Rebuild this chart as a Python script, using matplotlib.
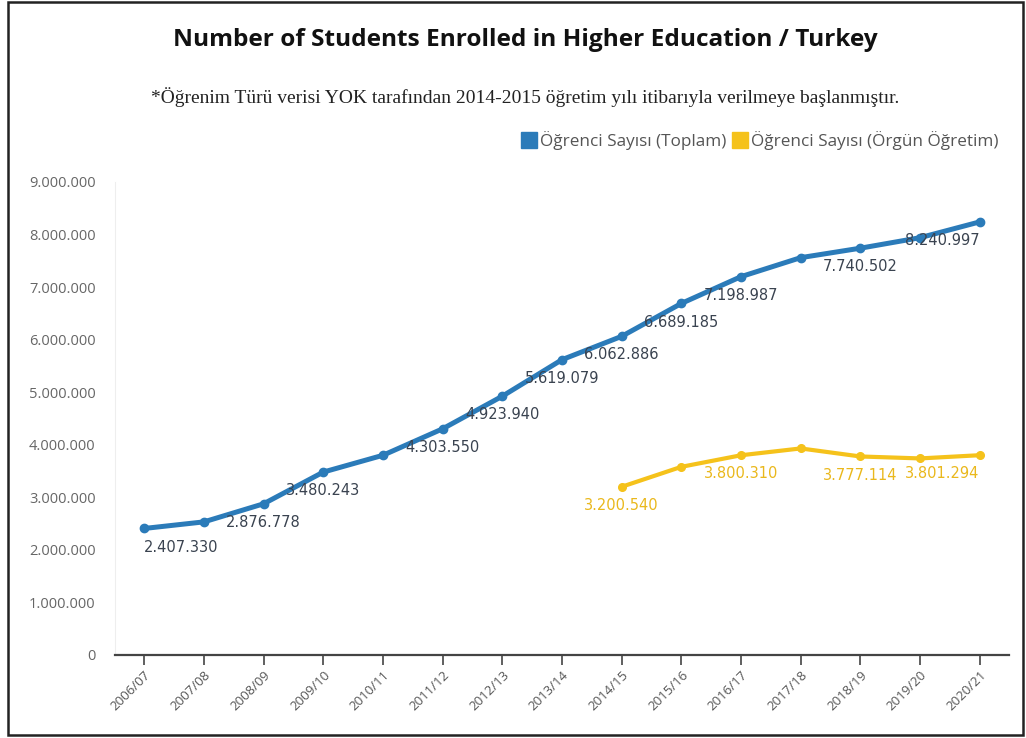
import matplotlib
matplotlib.use("Agg")
import matplotlib.pyplot as plt
from matplotlib.lines import Line2D
from matplotlib.patches import Rectangle
from matplotlib.ticker import FuncFormatter

years = ["2006/07", "2007/08", "2008/09", "2009/10", "2010/11", "2011/12", "2012/13",
         "2013/14", "2014/15", "2015/16", "2016/17", "2017/18", "2018/19", "2019/20", "2020/21"]
total = [2407330, 2532622, 2876778, 3480243, 3800000, 4303550, 4923940,
         5619079, 6062886, 6689185, 7198987, 7560371, 7740502, 7940133, 8240997]
total_labeled = [1, 0, 1, 1, 0, 1, 1, 1, 1, 1, 1, 0, 1, 0, 1]
formal_years = years[8:]
formal = [3200540, 3580000, 3800310, 3930000, 3777114, 3740000, 3801294]
formal_labeled = [1, 0, 1, 0, 1, 0, 1]

series_names = ["Öğrenci Sayısı (Toplam)", "Öğrenci Sayısı (Örgün Öğretim)"]
title = "Number of Students Enrolled in Higher Education / Turkey"
subtitle = "*Öğrenim Türü verisi YOK tarafından 2014-2015 öğretim yılı itibarıyla verilmeye başlanmıştır."

BLUE = "#2b7bb9"
YELLOW = "#f5c21b"

def dotted(v):
    return f"{int(round(v)):,}".replace(",", ".")

fig = plt.figure(figsize=(10.26, 7.38), dpi=100)
ax = fig.add_axes([0.1121, 0.1125, 0.8713, 0.6409])

x_total = list(range(len(years)))
x_formal = [years.index(y) for y in formal_years]

ax.plot(x_total, total, color=BLUE, lw=3.6, marker="o", ms=6, solid_capstyle="round", zorder=3)
ax.plot(x_formal, formal, color=YELLOW, lw=3.0, marker="o", ms=5.5, solid_capstyle="round", zorder=3)

n = len(years)
for i, (xv, v, show) in enumerate(zip(x_total, total, total_labeled)):
    if not show:
        continue
    ha = "center"
    if i == 0:
        ha = "left"
    elif i == n - 1:
        ha = "right"
    ax.annotate(dotted(v), (xv, v), xytext=(0, -8), textcoords="offset points",
                ha=ha, va="top", fontsize=10.5, color="#3a4350", family="DejaVu Sans")

for i, (xv, v, show) in enumerate(zip(x_formal, formal, formal_labeled)):
    if not show:
        continue
    ha = "right" if xv == n - 1 else "center"
    ax.annotate(dotted(v), (xv, v), xytext=(0, -8), textcoords="offset points",
                ha=ha, va="top", fontsize=10.5, color="#eab81c", family="DejaVu Sans")

ax.set_xlim(-0.49, n - 1 + 0.49)
ax.set_ylim(0, 9000000)
ax.set_yticks(range(0, 9000001, 1000000))
ax.yaxis.set_major_formatter(FuncFormatter(lambda v, p: dotted(v)))
ax.set_xticks(x_total)
ax.set_xticklabels(years, rotation=45, ha="right", rotation_mode="anchor",
                   fontsize=9.5, color="#555555", family="Open Sans")
for lab in ax.get_yticklabels():
    lab.set_family("Open Sans")
    lab.set_fontsize(10.5)
    lab.set_color("#666666")

for s in ["top", "right"]:
    ax.spines[s].set_visible(False)
ax.spines["left"].set_color("#eeeeee")
ax.spines["left"].set_linewidth(0.8)
ax.spines["bottom"].set_color("#444444")
ax.spines["bottom"].set_linewidth(1.6)
ax.tick_params(axis="y", length=0, pad=14)
ax.tick_params(axis="x", length=7, width=1.2, color="#444444", direction="out", pad=3)

fig.text(0.512, 0.946, title, ha="center", va="center", fontsize=17.6, fontweight="bold",
         family="Open Sans", color="#111111")
fig.text(0.512, 0.869, subtitle, ha="center", va="center", fontsize=14,
         family="Liberation Serif", color="#222222")

handles = [Line2D([], [], ls="none", marker="s", ms=11, color=BLUE),
           Line2D([], [], ls="none", marker="s", ms=11, color=YELLOW)]
leg = fig.legend(handles, series_names, loc="center right", bbox_to_anchor=(0.988, 0.81),
                 ncol=2, frameon=False, handlelength=0.6, handletextpad=0.35,
                 columnspacing=0.5, prop={"family": "Open Sans", "size": 12.3})
for t in leg.get_texts():
    t.set_color("#555555")

fig.patches.append(Rectangle((0.008, 0.004), 0.989, 0.993, transform=fig.transFigure,
                             fill=False, edgecolor="#222222", lw=1.8))

fig.savefig("out.png", dpi=100)
